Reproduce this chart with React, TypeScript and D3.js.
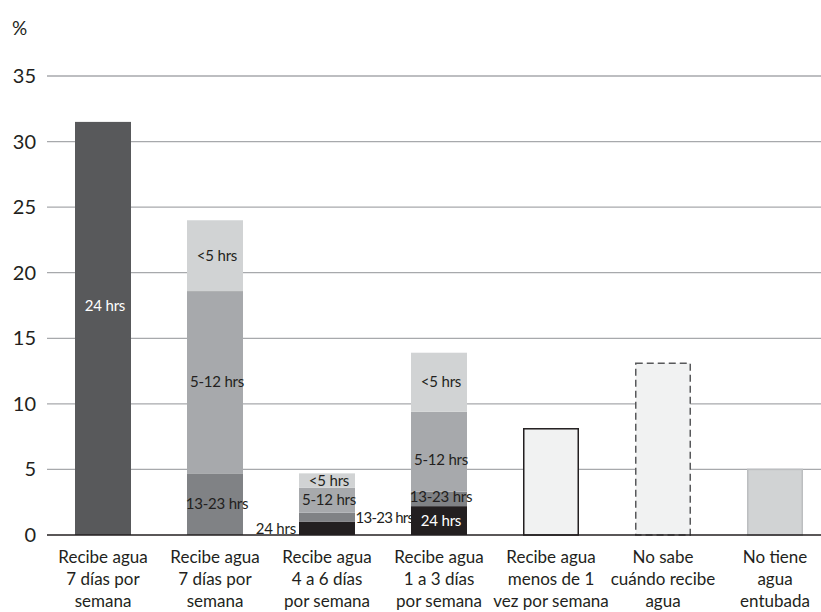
import React from "react";
import * as d3 from "d3";

// Category labels, one entry per line of text
const categories: string[][] = [
  ["Recibe agua", "7 días por", "semana"],
  ["Recibe agua", "7 días por", "semana"],
  ["Recibe agua", "4 a 6 días", "por semana"],
  ["Recibe agua", "1 a 3 días", "por semana"],
  ["Recibe agua", "menos de 1", "vez por semana"],
  ["No sabe", "cuándo recibe", "agua"],
  ["No tiene", "agua", "entubada"],
];

// Hours of supply per day, stacked for the first four categories
const hourGroups = ["24 hrs", "13-23 hrs", "5-12 hrs", "<5 hrs"];
const hrs24 = [31.5, 0, 1.0, 2.2];
const hrs13to23 = [0, 4.7, 0.7, 1.1];
const hrs5to12 = [0, 13.9, 1.9, 6.1];
const hrsUnder5 = [0, 5.4, 1.1, 4.5];

// Single-value bars for the remaining categories
const singleValues = [8.1, 13.1, 5.0];

const yTicks = [0, 5, 10, 15, 20, 25, 30, 35];

const W = 821;
const H = 612;
const FONT = "Lato, 'Open Sans', sans-serif";
const INK = "#231f20";

const groupFill: Record<string, string> = {
  "24 hrs": "#231f20",
  "13-23 hrs": "#808285",
  "5-12 hrs": "#a7a9ac",
  "<5 hrs": "#d1d3d4",
};

const singleStyle = [
  { fill: "#f1f2f2", stroke: "#231f20", dash: "none" },
  { fill: "#f1f2f2", stroke: "#58595b", dash: "7,4" },
  { fill: "#d1d3d4", stroke: "#bcbec0", dash: "none" },
];

export default function App() {
  const x = d3
    .scaleBand<number>()
    .domain(categories.map((_, i) => i))
    .range([47, 831])
    .paddingInner(0.5)
    .paddingOuter(0.25);
  const y = d3.scaleLinear().domain([0, 35]).range([535, 76]);
  const bw = x.bandwidth();

  const rows = hrs24.map((_, i) => ({
    idx: i,
    "24 hrs": hrs24[i],
    "13-23 hrs": hrs13to23[i],
    "5-12 hrs": hrs5to12[i],
    "<5 hrs": hrsUnder5[i],
  }));
  const stacked = d3.stack<any>().keys(hourGroups)(rows);

  const segments: JSX.Element[] = [];
  const labels: JSX.Element[] = [];
  stacked.forEach((layer) => {
    const key = layer.key;
    layer.forEach((d) => {
      const i = d.data.idx as number;
      const v = d[1] - d[0];
      if (v <= 0) return;
      const x0 = x(i)!;
      const fill = i === 0 ? "#58595b" : groupFill[key];
      segments.push(
        <rect
          key={`s-${key}-${i}`}
          x={x0}
          y={y(d[1])}
          width={bw}
          height={y(d[0]) - y(d[1])}
          fill={fill}
        />
      );
      let lx = x0 + bw / 2 + 2;
      let ly = y((d[0] + d[1]) / 2);
      let anchor: "middle" | "start" | "end" = "middle";
      let color = key === "24 hrs" ? "#ffffff" : INK;
      let spacing = -0.2;
      if (i === 0) ly = y(17.5);
      if (i === 3 && key === "5-12 hrs") ly = y(d[0] + 2.4);
      if (i === 3 && key === "13-23 hrs") ly = y(d[0] + 0.75);
      if (i === 2 && key === "24 hrs") {
        lx = x0 - 3;
        anchor = "end";
        color = INK;
      }
      if (i === 2 && key === "13-23 hrs") {
        lx = x0 + bw + 0.5;
        anchor = "start";
        ly = y(d[0] + 0.35);
        spacing = -0.75;
      }
      labels.push(
        <text
          key={`l-${key}-${i}`}
          x={lx}
          y={ly}
          dy="0.35em"
          textAnchor={anchor}
          fontSize={15}
          letterSpacing={spacing}
          fill={color}
        >
          {key}
        </text>
      );
    });
  });

  return (
    <svg
      width={W}
      height={H}
      style={{ position: "absolute", left: 0, top: 0, background: "#fff" }}
      fontFamily={FONT}
    >
      <text x={12} y={35} fontSize={19} fill={INK}>
        %
      </text>

      {yTicks.map((t) => (
        <g key={`t-${t}`}>
          {t > 0 && (
            <line x1={47} x2={W} y1={y(t)} y2={y(t)} stroke="#a7a9ac" strokeWidth={1.3} />
          )}
          <text x={36} y={y(t)} dy="0.35em" textAnchor="end" fontSize={20} fill={INK}>
            {t}
          </text>
        </g>
      ))}

      {segments}

      {singleValues.map((v, k) => {
        const i = k + 4;
        const s = singleStyle[k];
        return (
          <rect
            key={`b-${i}`}
            x={x(i)! + 0.75}
            y={y(v)}
            width={bw - 1.5}
            height={y(0) - y(v)}
            fill={s.fill}
            stroke={s.stroke}
            strokeWidth={1.5}
            strokeDasharray={s.dash}
          />
        );
      })}

      {labels}

      <line x1={47} x2={W} y1={y(0)} y2={y(0)} stroke={INK} strokeWidth={1.6} />

      {categories.map((lines, i) => (
        <text
          key={`c-${i}`}
          x={x(i)! + bw / 2}
          y={563}
          textAnchor="middle"
          fontSize={17}
          fill={INK}
        >
          {lines.map((ln, j) => (
            <tspan key={j} x={x(i)! + bw / 2} dy={j === 0 ? 0 : 22}>
              {ln}
            </tspan>
          ))}
        </text>
      ))}
    </svg>
  );
}
